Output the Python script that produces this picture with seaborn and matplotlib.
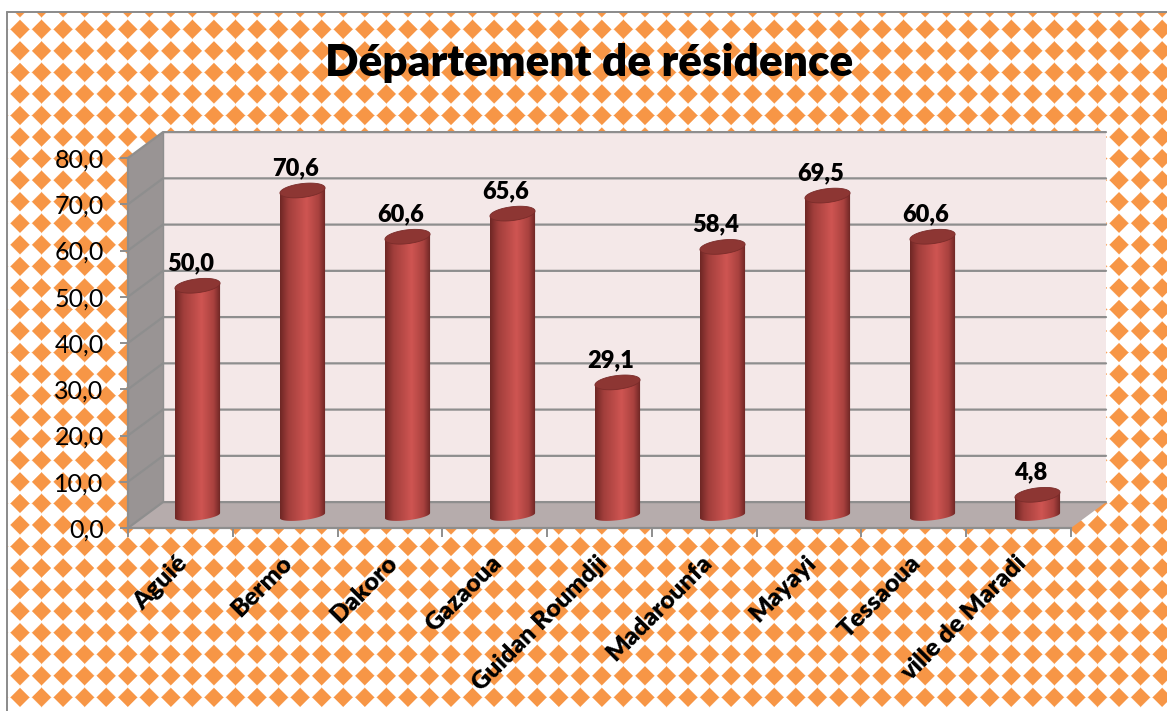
import numpy as np
import pandas as pd
import matplotlib
matplotlib.use('Agg')
import matplotlib.pyplot as plt
import seaborn as sns
from matplotlib.colors import LinearSegmentedColormap
from matplotlib.patches import Polygon, PathPatch
from matplotlib.path import Path
from matplotlib.transforms import ScaledTranslation

departements = ['Aguié', 'Bermo', 'Dakoro', 'Gazaoua', 'Guidan Roumdji',
                'Madarounfa', 'Mayayi', 'Tessaoua', 'ville de Maradi']
valeurs = [50.0, 70.6, 60.6, 65.6, 29.1, 58.4, 69.5, 60.6, 4.8]
y_ticks = [0, 10, 20, 30, 40, 50, 60, 70, 80]
titre = 'Département de résidence'

W, H = 1167, 711
ORANGE = np.array([247, 150, 70]) / 255
GRID = '#8e8e8e'


def px_axes(fig, left, top, right, bottom):
    return fig.add_axes([left / W, 1 - bottom / H, (right - left) / W, (bottom - top) / H])


def draw_background(fig):
    # motif de losanges orange
    ax = fig.add_axes([0, 0, 1, 1], zorder=0)
    xx, yy = np.meshgrid(np.arange(W) + 0.5, np.arange(H) + 0.5)
    period = 21.55
    dx = (xx - 20 + period / 2) % period - period / 2
    dy = (yy - 29.3 + period / 2) % period - period / 2
    alpha = np.clip(10.4 - (np.abs(dx) + np.abs(dy)), 0, 1.5) / 1.5
    img = np.ones((H, W, 3)) - alpha[..., None] * (1 - ORANGE)
    img[:12, :] = 1
    img[:, :7] = 1
    img[708:, :] = 1
    ax.imshow(img, extent=(0, W, H, 0), aspect='auto', interpolation='nearest')
    ax.plot([7, 7], [H, 12], color='#8a8a8a', lw=1.4)
    ax.plot([7, W], [12, 12], color='#8a8a8a', lw=1.4)
    ax.set_xlim(0, W)
    ax.set_ylim(H, 0)
    ax.axis('off')


def draw_walls(ax, dx, dy):
    x0, x1 = -0.5, 8.5
    top = y_ticks[-1]
    ax.add_patch(Polygon([(x0 + dx, dy), (x1 + dx, dy), (x1 + dx, top + dy), (x0 + dx, top + dy)],
                         fc='#f4e8e8', ec='none', clip_on=False, zorder=1))
    ax.add_patch(Polygon([(x0, 0), (x0 + dx, dy), (x0 + dx, top + dy), (x0, top)],
                         fc='#999494', ec='none', clip_on=False, zorder=1))
    ax.add_patch(Polygon([(x0, 0), (x0 + dx, dy), (x1 + dx, dy), (x1, 0)],
                         fc='#b6acac', ec='none', clip_on=False, zorder=1))
    for v in y_ticks:
        ax.plot([x0, x0 + dx, x1 + dx], [v, v + dy, v + dy], color=GRID, lw=1.6,
                clip_on=False, zorder=2, solid_joinstyle='miter')
    ax.plot([x0 + dx, x0 + dx], [0 + dy, top + dy], color=GRID, lw=1.0, clip_on=False, zorder=2)


def draw_cylinders(ax, cmap):
    tilt = 0.55
    t = np.linspace(0, 2 * np.pi, 80)
    tb = np.linspace(np.pi, 2 * np.pi, 40)
    for bar, val in zip(ax.patches, valeurs):
        cx = bar.get_x() + bar.get_width() / 2
        a = bar.get_width() / 2
        b = 1.5
        # corps du cylindre
        low_x = cx + a * np.cos(tb)
        low_y = 0.3 + 1.0 * np.sin(tb) + tilt * np.cos(tb)
        verts = list(zip(low_x, low_y)) + [(cx + a, val + tilt), (cx - a, val - tilt), (low_x[0], low_y[0])]
        codes = [Path.MOVETO] + [Path.LINETO] * (len(verts) - 2) + [Path.CLOSEPOLY]
        clip = PathPatch(Path(verts, codes), fc='none', ec='none', transform=ax.transData)
        ax.add_patch(clip)
        grad = np.linspace(0, 1, 64).reshape(1, -1)
        im = ax.imshow(grad, cmap=cmap, vmin=0, vmax=1, aspect='auto', zorder=4,
                       extent=(cx - a, cx + a, -b - 1, val + b + 1), interpolation='bilinear')
        im.set_clip_path(clip)
        im.set_clip_box(ax.figure.bbox)
        bar.set_visible(False)
        # dessus
        ax.add_patch(Polygon(np.column_stack([cx + a * np.cos(t), val + b * np.sin(t) + tilt * np.cos(t)]),
                             fc='#8d3633', ec='#7a2c2a', lw=0.6, zorder=5))
        ax.annotate(f'{val:.1f}'.replace('.', ','), (cx, val), xytext=(-5, 8), textcoords='offset points',
                    ha='center', va='bottom', fontsize=17, fontweight='heavy', color='black', zorder=6)


def main():
    sns.set_style('white')
    plt.rcParams['font.family'] = ['Lato', 'DejaVu Sans']

    fig = plt.figure(figsize=(W / 100, H / 100), dpi=100, facecolor='white')
    draw_background(fig)
    fig.text(589 / W, 1 - 63 / H, titre, ha='center', va='center', fontsize=31.8, fontweight='heavy', color='black')

    # plan avant : axes et graduations
    ax = px_axes(fig, 128, 158, 1071, 528)
    ax.set_zorder(1)
    ax.patch.set_visible(False)
    ax.set_xlim(-0.5, 8.5)
    ax.set_ylim(0, 80)
    draw_walls(ax, 0.334, 5.6)
    for s in ['top', 'right']:
        ax.spines[s].set_visible(False)
    for s in ['left', 'bottom']:
        ax.spines[s].set_color(GRID)
        ax.spines[s].set_linewidth(1.6)
        ax.spines[s].set_zorder(3)
    ax.set_yticks(y_ticks)
    ax.set_yticklabels([f'{v:.1f}'.replace('.', ',') for v in y_ticks], fontsize=18)
    ax.set_xticks(np.arange(len(departements)))
    ax.set_xticklabels(departements, rotation=45, ha='right', rotation_mode='anchor',
                       fontsize=18, fontweight='heavy')
    ax.set_xticks(np.arange(-0.5, len(departements)), minor=True)
    ax.tick_params(axis='x', which='major', length=0, pad=17, labelcolor='black')
    ax.tick_params(axis='x', which='minor', length=6.5, width=1.4, color=GRID, bottom=True)
    ax.tick_params(axis='y', length=5.5, width=1.4, color=GRID, left=True, pad=12, labelcolor='black')
    shift = ScaledTranslation(-4 / 100, 0, fig.dpi_scale_trans)
    for label in ax.get_xticklabels():
        label.set_transform(label.get_transform() + shift)

    # cylindres, plan médian de la profondeur
    ax_bar = px_axes(fig, 145, 147, 1090, 517)
    ax_bar.set_zorder(2)
    ax_bar.patch.set_visible(False)
    df = pd.DataFrame({'departement': departements, 'valeur': valeurs})
    sns.barplot(data=df, x='departement', y='valeur', color='#c9504d', width=0.43, saturation=1, ax=ax_bar)
    ax_bar.set_xlim(-0.5, 8.5)
    ax_bar.set_ylim(0, 80)
    ax_bar.axis('off')
    cmap = LinearSegmentedColormap.from_list('cyl', [(0, '#6f2725'), (0.18, '#a13e3b'), (0.58, '#cf5552'),
                                                     (0.85, '#a8413e'), (1, '#6a2523')])
    draw_cylinders(ax_bar, cmap)
    ax_bar.set_xlim(-0.5, 8.5)
    ax_bar.set_ylim(0, 80)

    plt.savefig('out.png', dpi=100)


if __name__ == "__main__":
    main()
